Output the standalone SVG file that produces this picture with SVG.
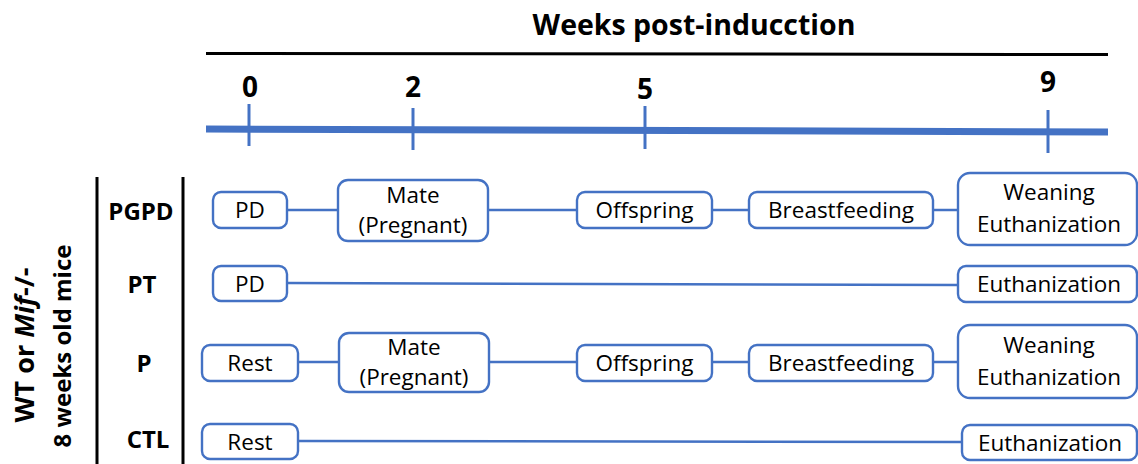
<svg xmlns="http://www.w3.org/2000/svg" width="1138" height="464" viewBox="0 0 1138 464">
<style>
.box{fill:#fff;stroke:#4472C4;stroke-width:2.4}
.conn{stroke:#4472C4;stroke-width:2.5;fill:none}
.nt{font-family:"Open Sans","Noto Sans",sans-serif;font-size:22.5px;fill:#000;text-anchor:middle}
.bl{font-family:"Open Sans","Noto Sans",sans-serif;font-weight:bold;fill:#000;text-anchor:middle}
.tick{stroke:#4472C4;stroke-width:3}
</style>
<rect width="1138" height="464" fill="#fff"/>
<g id="header">
<text class="bl" x="694" y="35" font-size="28.5">Weeks post-inducction</text>
<line x1="206" y1="53.5" x2="1108" y2="54.5" stroke="#000" stroke-width="3"/>
<text class="bl" x="250" y="97" font-size="28">0</text>
<text class="bl" x="413" y="97" font-size="28">2</text>
<text class="bl" x="645" y="99" font-size="28">5</text>
<text class="bl" x="1048" y="92" font-size="28">9</text>
<line x1="206" y1="129" x2="1108" y2="132" stroke="#4472C4" stroke-width="7"/>
<line class="tick" x1="249" y1="104" x2="249" y2="146"/>
<line class="tick" x1="413" y1="108" x2="413" y2="150"/>
<line class="tick" x1="645" y1="106" x2="645" y2="149"/>
<line class="tick" x1="1048" y1="110" x2="1048" y2="153"/>
</g>
<g id="side">
<text class="bl" font-size="27" transform="translate(34,345) rotate(-90)">WT or <tspan font-style="italic">Mif</tspan>-/-</text>
<text class="bl" font-size="24" transform="translate(71,346) rotate(-90)">8 weeks old mice</text>
<line x1="97" y1="177" x2="97" y2="464" stroke="#000" stroke-width="3"/>
<line x1="183" y1="177" x2="183" y2="464" stroke="#000" stroke-width="3"/>
<text class="bl" font-size="24" x="141" y="220">PGPD</text>
<text class="bl" font-size="24" x="142" y="293">PT</text>
<text class="bl" font-size="24" x="144" y="372">P</text>
<text class="bl" font-size="24" x="148" y="448">CTL</text>
</g>
<g id="connectors">
<line class="conn" x1="287" y1="210" x2="338" y2="210"/>
<line class="conn" x1="488" y1="210" x2="577" y2="210"/>
<line class="conn" x1="712" y1="210" x2="749" y2="210"/>
<line class="conn" x1="933" y1="210" x2="958" y2="210"/>
<line class="conn" x1="287" y1="283" x2="958" y2="285"/>
<line class="conn" x1="298" y1="362" x2="339" y2="362"/>
<line class="conn" x1="489" y1="362" x2="577" y2="362"/>
<line class="conn" x1="712" y1="362" x2="749" y2="362"/>
<line class="conn" x1="933" y1="362" x2="958" y2="362"/>
<line class="conn" x1="298" y1="441" x2="962" y2="442"/>
</g>
<g id="pgpd-pd"><rect class="box" x="213" y="192" width="74" height="36" rx="8"/><text class="nt" x="250" y="218">PD</text></g>
<g id="pgpd-mate"><rect class="box" x="338" y="180" width="150" height="61" rx="10"/><text class="nt" x="413" y="203">Mate</text><text class="nt" x="413" y="233">(Pregnant)</text></g>
<g id="pgpd-offspring"><rect class="box" x="577" y="192" width="135" height="36" rx="8"/><text class="nt" x="644.5" y="218">Offspring</text></g>
<g id="pgpd-breastfeeding"><rect class="box" x="749" y="192" width="184" height="36" rx="8"/><text class="nt" x="841" y="218">Breastfeeding</text></g>
<g id="pgpd-weaning"><rect class="box" x="958" y="173" width="179" height="72" rx="12"/><text class="nt" x="1049" y="200">Weaning</text><text class="nt" x="1049" y="232">Euthanization</text></g>
<g id="pt-pd"><rect class="box" x="213" y="266" width="74" height="35" rx="8"/><text class="nt" x="250" y="292">PD</text></g>
<g id="pt-euth"><rect class="box" x="958" y="266" width="179" height="36" rx="8"/><text class="nt" x="1049" y="292">Euthanization</text></g>
<g id="p-rest"><rect class="box" x="202" y="345" width="96" height="36" rx="8"/><text class="nt" x="250" y="371">Rest</text></g>
<g id="p-mate"><rect class="box" x="339" y="333" width="150" height="59" rx="10"/><text class="nt" x="414" y="355">Mate</text><text class="nt" x="414" y="385">(Pregnant)</text></g>
<g id="p-offspring"><rect class="box" x="577" y="345" width="135" height="36" rx="8"/><text class="nt" x="644.5" y="371">Offspring</text></g>
<g id="p-breastfeeding"><rect class="box" x="749" y="345" width="184" height="36" rx="8"/><text class="nt" x="841" y="371">Breastfeeding</text></g>
<g id="p-weaning"><rect class="box" x="958" y="325" width="179" height="73" rx="12"/><text class="nt" x="1049" y="353">Weaning</text><text class="nt" x="1049" y="385">Euthanization</text></g>
<g id="ctl-rest"><rect class="box" x="202" y="424" width="96" height="35" rx="8"/><text class="nt" x="250" y="450">Rest</text></g>
<g id="ctl-euth"><rect class="box" x="962" y="425" width="175" height="35" rx="8"/><text class="nt" x="1050" y="451">Euthanization</text></g>
</svg>
